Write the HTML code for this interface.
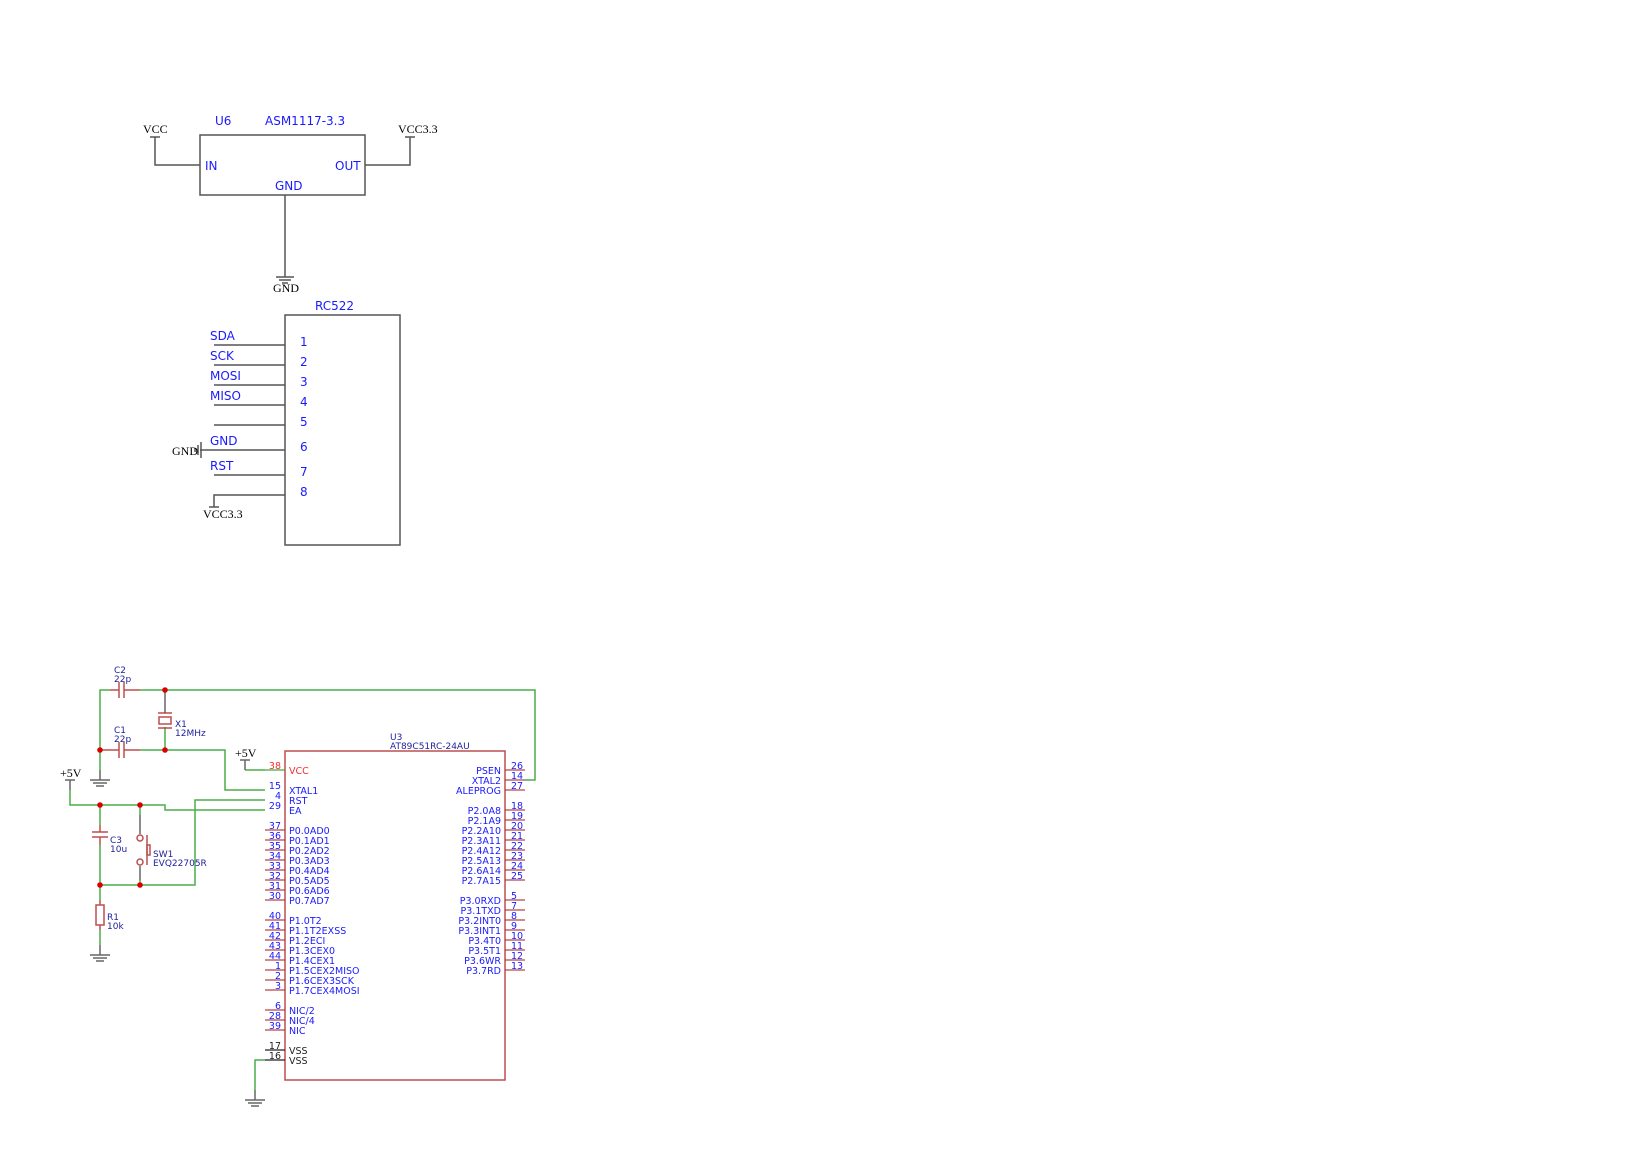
<!DOCTYPE html>
<html><head><meta charset="utf-8"><style>
html,body{margin:0;padding:0;background:#fff;}
svg{display:block;}
.b{font-family:"DejaVu Sans","Liberation Sans",sans-serif;fill:#1a1aff;}
.s{font-family:"Liberation Serif",serif;fill:#000;}
</style></head><body>
<svg width="1652" height="1171" viewBox="0 0 1652 1171" xmlns="http://www.w3.org/2000/svg">
<rect width="1652" height="1171" fill="#fff"/>
<!-- U6 -->
<g stroke="#555" stroke-width="1.5" fill="none">
<rect x="200" y="135" width="165" height="60"/>
<polyline points="155,137 155,165 200,165"/>
<line x1="150" y1="137" x2="160" y2="137"/>
<polyline points="410,137 410,165 365,165"/>
<line x1="405" y1="137" x2="415" y2="137"/>
<line x1="285" y1="195" x2="285" y2="277"/>
<line x1="276" y1="277" x2="294" y2="277"/><line x1="279" y1="280" x2="291" y2="280"/><line x1="282" y1="283" x2="288" y2="283"/>
</g>
<text class="s" x="143" y="133" font-size="12">VCC</text>
<text class="s" x="398" y="133" font-size="12">VCC3.3</text>
<text class="s" x="273" y="292" font-size="12">GND</text>
<text class="b" x="215" y="125" font-size="12">U6</text>
<text class="b" x="265" y="125" font-size="12">ASM1117-3.3</text>
<text class="b" x="205" y="170" font-size="12">IN</text>
<text class="b" x="335" y="170" font-size="12">OUT</text>
<text class="b" x="275" y="190" font-size="12">GND</text>
<!-- RC522 -->
<g stroke="#555" stroke-width="1.5" fill="none">
<rect x="285" y="315" width="115" height="230"/>
<line x1="214" y1="345" x2="285" y2="345"/>
<line x1="214" y1="365" x2="285" y2="365"/>
<line x1="214" y1="385" x2="285" y2="385"/>
<line x1="214" y1="405" x2="285" y2="405"/>
<line x1="214" y1="425" x2="285" y2="425"/>
<line x1="200" y1="450" x2="285" y2="450"/>
<line x1="214" y1="475" x2="285" y2="475"/>
<polyline points="214,507 214,495 285,495"/>
<line x1="209" y1="507" x2="219" y2="507"/>
<line x1="201" y1="442" x2="201" y2="458"/><line x1="198" y1="445" x2="198" y2="455"/><line x1="195" y1="448" x2="195" y2="452"/>
</g>
<g class="b" font-size="12">
<text x="315" y="310">RC522</text>
<text x="210" y="340">SDA</text><text x="210" y="360">SCK</text><text x="210" y="380">MOSI</text><text x="210" y="400">MISO</text>
<text x="210" y="445">GND</text><text x="210" y="470">RST</text>
<text x="300" y="346">1</text><text x="300" y="366">2</text><text x="300" y="386">3</text><text x="300" y="406">4</text>
<text x="300" y="426">5</text><text x="300" y="451">6</text><text x="300" y="476">7</text><text x="300" y="496">8</text>
</g>
<text class="s" x="172" y="455" font-size="12">GND</text>
<text class="s" x="203" y="518" font-size="12">VCC3.3</text>
<!-- circuit wires green -->
<g stroke="#2ca02c" stroke-width="1.5" fill="none" opacity="0.85">
<polyline points="100,770 100,690 110,690"/>
<polyline points="140,690 535,690 535,780 525,780"/>
<polyline points="140,750 225,750 225,790 265,790"/>
<polyline points="165,727 165,750"/>
<polyline points="70,790 70,805 165,805 165,810 265,810"/>
<polyline points="265,800 195,800 195,885 100,885"/>
<polyline points="245,770 265,770"/>
<polyline points="100,805 100,825"/><polyline points="100,845 100,885 100,900"/>
<polyline points="100,930 100,945"/>
<polyline points="140,805 140,815"/><polyline points="140,880 140,885"/>
<polyline points="265,1060 255,1060 255,1090"/>
</g>
<g stroke="#666" stroke-width="1.5" fill="none">
<line x1="100" y1="770" x2="100" y2="780"/>
<line x1="90" y1="780" x2="110" y2="780"/><line x1="93" y1="783" x2="107" y2="783"/><line x1="96" y1="786" x2="104" y2="786"/>
<line x1="100" y1="945" x2="100" y2="955"/>
<line x1="90" y1="955" x2="110" y2="955"/><line x1="93" y1="958" x2="107" y2="958"/><line x1="96" y1="961" x2="104" y2="961"/>
<line x1="255" y1="1090" x2="255" y2="1100"/>
<line x1="245" y1="1100" x2="265" y2="1100"/><line x1="248" y1="1103" x2="262" y2="1103"/><line x1="251" y1="1106" x2="259" y2="1106"/>
<line x1="70" y1="780" x2="70" y2="790"/><line x1="65" y1="780" x2="75" y2="780"/>
<line x1="245" y1="760" x2="245" y2="770"/><line x1="240" y1="760" x2="250" y2="760"/>
<line x1="165" y1="690" x2="165" y2="713"/>
<line x1="140" y1="815" x2="140" y2="834"/><line x1="140" y1="866" x2="140" y2="880"/>
</g>
<text class="s" x="60" y="777" font-size="12">+5V</text>
<text class="s" x="235" y="757" font-size="12">+5V</text>
<!-- components red -->
<g stroke="#b03030" stroke-width="1.5" fill="none" opacity="0.85">
<line x1="110" y1="690" x2="119" y2="690"/><line x1="124" y1="690" x2="140" y2="690"/>
<line x1="119" y1="682" x2="119" y2="698"/><line x1="124" y1="682" x2="124" y2="698"/>
<line x1="100" y1="750" x2="119" y2="750"/><line x1="124" y1="750" x2="140" y2="750"/>
<line x1="119" y1="742" x2="119" y2="758"/><line x1="124" y1="742" x2="124" y2="758"/>
<line x1="158" y1="713" x2="172" y2="713"/><rect x="159" y="717" width="12" height="7"/><line x1="158" y1="728" x2="172" y2="728"/>
<line x1="100" y1="825" x2="100" y2="832"/><line x1="92" y1="832" x2="108" y2="832"/><line x1="92" y1="837" x2="108" y2="837"/><line x1="100" y1="837" x2="100" y2="845"/>
<rect x="96" y="905" width="8" height="20"/><line x1="100" y1="900" x2="100" y2="905"/><line x1="100" y1="925" x2="100" y2="930"/>
<circle cx="140" cy="838" r="3"/><circle cx="140" cy="862" r="3"/>
<line x1="147" y1="835" x2="147" y2="865"/><rect x="147" y="845" width="3" height="10"/>
</g>
<g fill="#d00">
<circle cx="165" cy="690" r="2.8"/><circle cx="100" cy="750" r="2.8"/><circle cx="165" cy="750" r="2.8"/>
<circle cx="100" cy="805" r="2.8"/><circle cx="140" cy="805" r="2.8"/>
<circle cx="100" cy="885" r="2.8"/><circle cx="140" cy="885" r="2.8"/>
</g>
<g font-family="DejaVu Sans,Liberation Sans,sans-serif" font-size="9" fill="#22229a">
<text x="114" y="673">C2</text><text x="114" y="682">22p</text>
<text x="114" y="733">C1</text><text x="114" y="742">22p</text>
<text x="175" y="727">X1</text><text x="175" y="736">12MHz</text>
<text x="110" y="843">C3</text><text x="110" y="852">10u</text>
<text x="153" y="857">SW1</text><text x="153" y="866">EVQ22705R</text>
<text x="107" y="920">R1</text><text x="107" y="929">10k</text>
<text x="390" y="740">U3</text><text x="390" y="749">AT89C51RC-24AU</text>
</g>
<!-- U3 -->
<rect x="285" y="751" width="220" height="329" fill="none" stroke="#b03030" stroke-width="1.5" opacity="0.85"/>
<g id="pins" font-family="DejaVu Sans,Liberation Sans,sans-serif" font-size="9.5"></g>
<g stroke="#b03030" stroke-width="1.3" opacity="0.9">
<line x1="265" y1="770" x2="285" y2="770" stroke="#2ca02c"/>
<line x1="265" y1="830" x2="285" y2="830"/><line x1="265" y1="840" x2="285" y2="840"/><line x1="265" y1="850" x2="285" y2="850"/><line x1="265" y1="860" x2="285" y2="860"/>
<line x1="265" y1="870" x2="285" y2="870"/><line x1="265" y1="880" x2="285" y2="880"/><line x1="265" y1="890" x2="285" y2="890"/><line x1="265" y1="900" x2="285" y2="900"/>
<line x1="265" y1="920" x2="285" y2="920"/><line x1="265" y1="930" x2="285" y2="930"/><line x1="265" y1="940" x2="285" y2="940"/><line x1="265" y1="950" x2="285" y2="950"/>
<line x1="265" y1="960" x2="285" y2="960"/><line x1="265" y1="970" x2="285" y2="970"/><line x1="265" y1="980" x2="285" y2="980"/><line x1="265" y1="990" x2="285" y2="990"/>
<line x1="265" y1="1010" x2="285" y2="1010"/><line x1="265" y1="1020" x2="285" y2="1020"/><line x1="265" y1="1030" x2="285" y2="1030"/>
<line x1="505" y1="770" x2="525" y2="770"/><line x1="505" y1="780" x2="525" y2="780"/><line x1="505" y1="790" x2="525" y2="790"/>
<line x1="505" y1="810" x2="525" y2="810"/><line x1="505" y1="820" x2="525" y2="820"/><line x1="505" y1="830" x2="525" y2="830"/><line x1="505" y1="840" x2="525" y2="840"/>
<line x1="505" y1="850" x2="525" y2="850"/><line x1="505" y1="860" x2="525" y2="860"/><line x1="505" y1="870" x2="525" y2="870"/><line x1="505" y1="880" x2="525" y2="880"/>
<line x1="505" y1="900" x2="525" y2="900"/><line x1="505" y1="910" x2="525" y2="910"/><line x1="505" y1="920" x2="525" y2="920"/><line x1="505" y1="930" x2="525" y2="930"/>
<line x1="505" y1="940" x2="525" y2="940"/><line x1="505" y1="950" x2="525" y2="950"/><line x1="505" y1="960" x2="525" y2="960"/><line x1="505" y1="970" x2="525" y2="970"/>
</g>
<g stroke="#222" stroke-width="1.3"><line x1="265" y1="1050" x2="285" y2="1050"/><line x1="265" y1="1060" x2="285" y2="1060"/></g>
<g font-family="DejaVu Sans,Liberation Sans,sans-serif" font-size="9.5" fill="#1a1aff">
<g text-anchor="end">
<text x="281" y="769" fill="#f03030">38</text><text x="281" y="789">15</text><text x="281" y="799">4</text><text x="281" y="809">29</text>
<text x="281" y="829">37</text><text x="281" y="839">36</text><text x="281" y="849">35</text><text x="281" y="859">34</text><text x="281" y="869">33</text><text x="281" y="879">32</text><text x="281" y="889">31</text><text x="281" y="899">30</text>
<text x="281" y="919">40</text><text x="281" y="929">41</text><text x="281" y="939">42</text><text x="281" y="949">43</text><text x="281" y="959">44</text><text x="281" y="969">1</text><text x="281" y="979">2</text><text x="281" y="989">3</text>
<text x="281" y="1009">6</text><text x="281" y="1019">28</text><text x="281" y="1029">39</text>
<text x="281" y="1049" fill="#222">17</text><text x="281" y="1059" fill="#222">16</text>
<text x="501" y="774">PSEN</text><text x="501" y="784">XTAL2</text><text x="501" y="794">ALEPROG</text>
<text x="501" y="814">P2.0A8</text><text x="501" y="824">P2.1A9</text><text x="501" y="834">P2.2A10</text><text x="501" y="844">P2.3A11</text><text x="501" y="854">P2.4A12</text><text x="501" y="864">P2.5A13</text><text x="501" y="874">P2.6A14</text><text x="501" y="884">P2.7A15</text>
<text x="501" y="904">P3.0RXD</text><text x="501" y="914">P3.1TXD</text><text x="501" y="924">P3.2INT0</text><text x="501" y="934">P3.3INT1</text><text x="501" y="944">P3.4T0</text><text x="501" y="954">P3.5T1</text><text x="501" y="964">P3.6WR</text><text x="501" y="974">P3.7RD</text>
</g>
<text x="289" y="774" fill="#f03030">VCC</text><text x="289" y="794">XTAL1</text><text x="289" y="804">RST</text><text x="289" y="814">EA</text>
<text x="289" y="834">P0.0AD0</text><text x="289" y="844">P0.1AD1</text><text x="289" y="854">P0.2AD2</text><text x="289" y="864">P0.3AD3</text><text x="289" y="874">P0.4AD4</text><text x="289" y="884">P0.5AD5</text><text x="289" y="894">P0.6AD6</text><text x="289" y="904">P0.7AD7</text>
<text x="289" y="924">P1.0T2</text><text x="289" y="934">P1.1T2EXSS</text><text x="289" y="944">P1.2ECI</text><text x="289" y="954">P1.3CEX0</text><text x="289" y="964">P1.4CEX1</text><text x="289" y="974">P1.5CEX2MISO</text><text x="289" y="984">P1.6CEX3SCK</text><text x="289" y="994">P1.7CEX4MOSI</text>
<text x="289" y="1014">NIC/2</text><text x="289" y="1024">NIC/4</text><text x="289" y="1034">NIC</text>
<text x="289" y="1054" fill="#222">VSS</text><text x="289" y="1064" fill="#222">VSS</text>
<text x="511" y="769">26</text><text x="511" y="779">14</text><text x="511" y="789">27</text>
<text x="511" y="809">18</text><text x="511" y="819">19</text><text x="511" y="829">20</text><text x="511" y="839">21</text><text x="511" y="849">22</text><text x="511" y="859">23</text><text x="511" y="869">24</text><text x="511" y="879">25</text>
<text x="511" y="899">5</text><text x="511" y="909">7</text><text x="511" y="919">8</text><text x="511" y="929">9</text><text x="511" y="939">10</text><text x="511" y="949">11</text><text x="511" y="959">12</text><text x="511" y="969">13</text>
</g>
</svg>
</body></html>
